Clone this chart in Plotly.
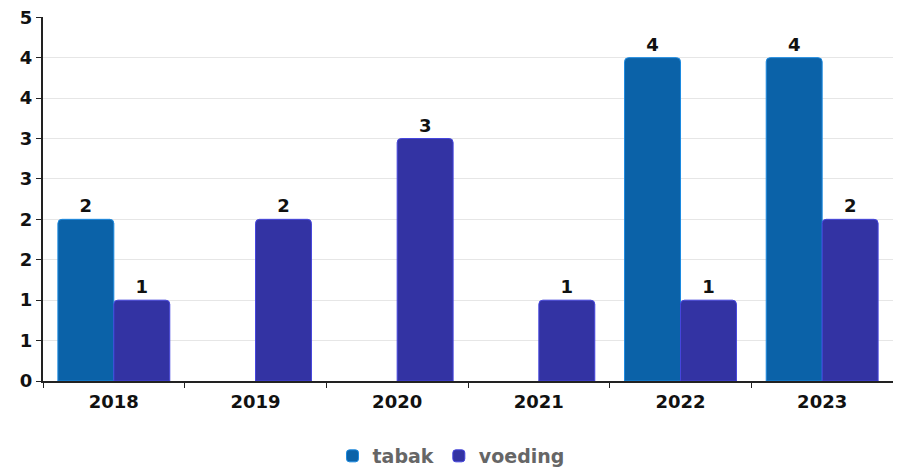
import plotly.graph_objects as go

years = ["2018", "2019", "2020", "2021", "2022", "2023"]
tabak = [2, None, None, None, 4, 4]
voeding = [1, 2, 3, 1, 1, 2]
ytick_vals = [0, 0.5, 1, 1.5, 2, 2.5, 3, 3.5, 4, 4.5]
ytick_text = ["0", "1", "1", "2", "2", "3", "3", "4", "4", "5"]

font_family = "DejaVu Sans"
fs = 18

fig = go.Figure()
fig.add_trace(go.Bar(
    name="tabak", x=years, y=tabak,
    marker=dict(color="#0B62A8", line=dict(color="#1C8AE0", width=1), cornerradius=4),
    text=[("" if v is None else str(v)) for v in tabak],
    textposition="outside", cliponaxis=False,
    textfont=dict(family=font_family, size=fs, color="#111111", weight="bold"),
))
fig.add_trace(go.Bar(
    name="voeding", x=years, y=voeding,
    marker=dict(color="#3333A3", line=dict(color="#4545DD", width=1), cornerradius=4),
    text=[str(v) for v in voeding],
    textposition="outside", cliponaxis=False,
    textfont=dict(family=font_family, size=fs, color="#111111", weight="bold"),
))

# page body adds 8px offset, so figure is 893x459 shown at (8, 8)
fig.update_layout(
    width=893, height=459,
    margin=dict(l=35, r=8, t=9, b=86, autoexpand=False),
    plot_bgcolor="white", paper_bgcolor="white",
    barmode="group", bargap=0.21, bargroupgap=0.0,
    font=dict(family=font_family, size=fs, color="#111111"),
    showlegend=True,
    uniformtext=dict(minsize=fs, mode="show"),
    legend=dict(orientation="h", x=0.48, xanchor="center",
                yref="container", y=0.024, yanchor="middle",
                font=dict(family=font_family, size=19, color="#666666", weight="bold"),
                itemwidth=30, tracegroupgap=0),
)
fig.update_xaxes(
    automargin=False,
    showline=True, linecolor="#222222", linewidth=2,
    ticks="outside", tickson="boundaries", ticklen=5, tickcolor="#222222",
    tickfont=dict(family=font_family, size=fs, color="#111111", weight="bold"),
    ticklabelstandoff=3,
    showgrid=False,
)
fig.update_yaxes(
    automargin=False,
    range=[0, 4.503], tickvals=ytick_vals, ticktext=ytick_text,
    ticklabeloverflow="allow",
    showline=True, linecolor="#222222", linewidth=2,
    ticks="outside", ticklen=5, tickcolor="#222222",
    tickfont=dict(family=font_family, size=fs, color="#111111", weight="bold"),
    showgrid=True, gridcolor="#E6E6E6", gridwidth=1, zeroline=False,
)

fig.write_html("out.html")
